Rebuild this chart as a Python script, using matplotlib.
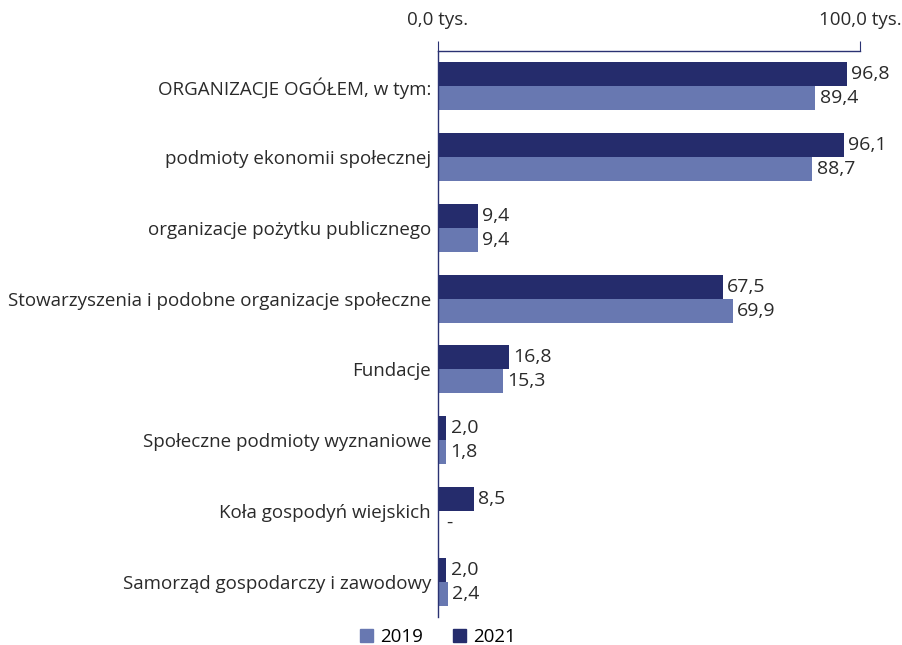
import numpy as np
import matplotlib.pyplot as plt
from matplotlib.patches import Patch

categories = [
    "ORGANIZACJE OGÓŁEM, w tym:",
    "podmioty ekonomii społecznej",
    "organizacje pożytku publicznego",
    "Stowarzyszenia i podobne organizacje społeczne",
    "Fundacje",
    "Społeczne podmioty wyznaniowe",
    "Koła gospodyń wiejskich",
    "Samorząd gospodarczy i zawodowy",
]
values_2021 = [96.8, 96.1, 9.4, 67.5, 16.8, 2.0, 8.5, 2.0]
values_2019 = [89.4, 88.7, 9.4, 69.9, 15.3, 1.8, None, 2.4]

c2021 = "#252c6c"
c2019 = "#6878b1"
axis_col = "#2a3272"
text_col = "#2a2a2a"
fs = 13.5

plt.rcParams['font.family'] = ['Open Sans', 'DejaVu Sans']

fig = plt.figure(figsize=(9.02, 6.45), dpi=100)
ax = fig.add_axes([0.4856, 0.0434, 0.468, 0.8775])

y = np.arange(len(categories))
h = 0.34
v19 = [v if v is not None else 0 for v in values_2019]
ax.barh(y - h / 2, values_2021, height=h, color=c2021)
ax.barh(y + h / 2, v19, height=h, color=c2019)

for i in range(len(categories)):
    ax.annotate(f"{values_2021[i]:.1f}".replace(".", ","), (values_2021[i], y[i] - h / 2),
                xytext=(3, 0), textcoords="offset points", va="center", ha="left",
                fontsize=fs + 0.5, color=text_col)
    lab = "-" if values_2019[i] is None else f"{values_2019[i]:.1f}".replace(".", ",")
    ax.annotate(lab, (v19[i], y[i] + h / 2),
                xytext=(3 if values_2019[i] is not None else 6, 0), textcoords="offset points",
                va="center", ha="left", fontsize=fs + 0.5, color=text_col)

ax.set_ylim(len(categories) - 0.5, -0.5)
ax.set_xlim(0, 100)
ax.set_yticks(y)
ax.set_yticklabels(categories, fontsize=fs, color=text_col)
ax.tick_params(axis="y", length=0, pad=5)

ax.xaxis.tick_top()
ax.set_xticks([0, 100])
ax.set_xticklabels(["0,0 tys.", "100,0 tys."], fontsize=fs, color=text_col)
ax.tick_params(axis="x", direction="out", length=7, color=axis_col, pad=8.5)

for s in ["right", "bottom"]:
    ax.spines[s].set_visible(False)
for s in ["top", "left"]:
    ax.spines[s].set_color(axis_col)
    ax.spines[s].set_linewidth(1.0)

handles = [Patch(color=c2019, label="2019"), Patch(color=c2021, label="2021")]
fig.legend(handles=handles, loc="center", bbox_to_anchor=(0.486, 0.0124), ncol=2,
           frameon=False, fontsize=fs, handlelength=0.67, handleheight=0.67,
           columnspacing=1.6, handletextpad=0.4, borderpad=0)

fig.savefig("out.png", dpi=100)
